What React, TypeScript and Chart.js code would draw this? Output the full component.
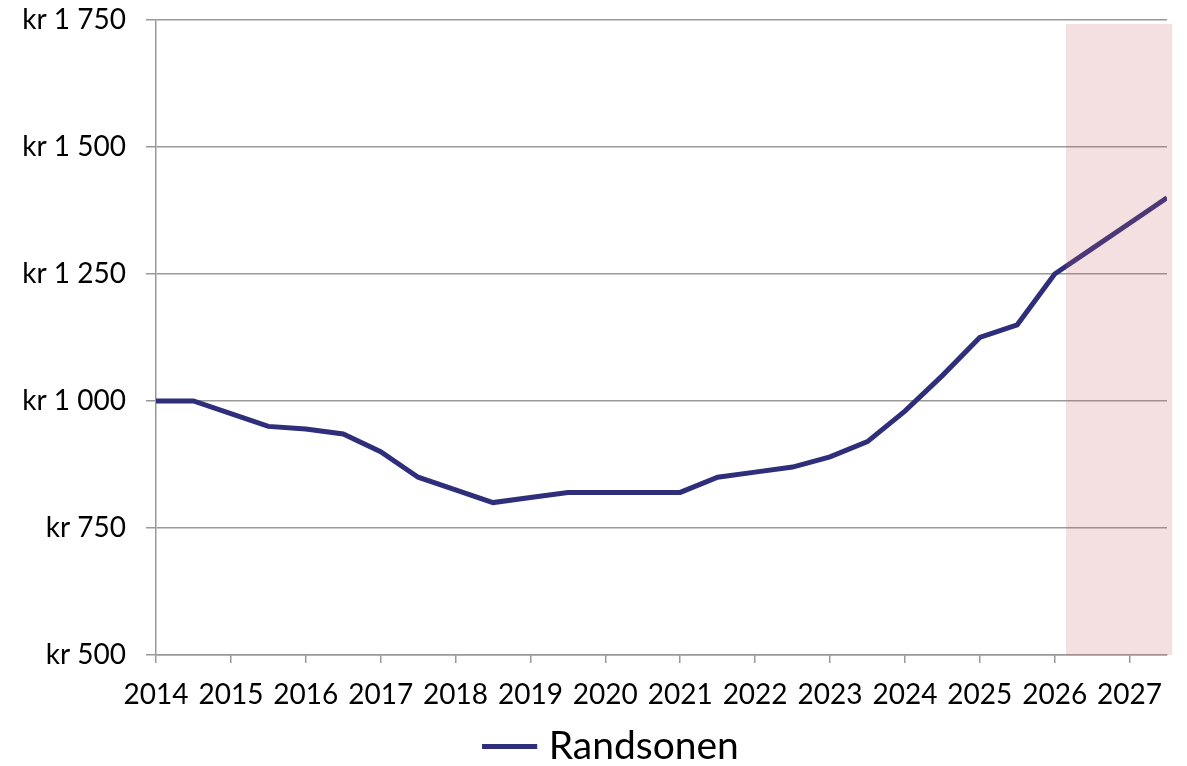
import React, { useEffect, useRef } from "react";
import { Chart, registerables } from "chart.js";

Chart.register(...registerables);

const X_VALUES = [
  2014, 2014.5, 2015, 2015.5, 2016, 2016.5, 2017, 2017.5, 2018, 2018.5, 2019, 2019.5,
  2020, 2020.5, 2021, 2021.5, 2022, 2022.5, 2023, 2023.5, 2024, 2024.5, 2025, 2025.5,
  2026, 2026.5, 2027, 2027.5,
];
const RANDSONEN = [
  1000, 1000, 975, 950, 945, 935, 900, 850, 825, 800, 810, 820,
  820, 820, 820, 850, 860, 870, 890, 920, 980, 1050, 1125, 1150,
  1250, 1300, 1350, 1400,
];
const YEAR_TICKS = [2014, 2015, 2016, 2017, 2018, 2019, 2020, 2021, 2022, 2023, 2024, 2025, 2026, 2027];
const Y_TICKS = [500, 750, 1000, 1250, 1500, 1750];
const SERIES_LABEL = "Randsonen";
const BAND_X = [2026.15, 2027.57];
const BAND_Y = [500, 1742];
const LEGEND_SHIFT = 31;

const FONT = "Lato, 'Open Sans', sans-serif";

function formatKr(v: number): string {
  if (v >= 1000) {
    const th = Math.floor(v / 1000);
    const rest = String(v % 1000).padStart(3, "0");
    return `kr ${th} ${rest}`;
  }
  return `kr ${v}`;
}

const bandPlugin = {
  id: "forecastBand",
  afterLayout(chart: any) {
    if (chart.legend) {
      chart.legend.left += LEGEND_SHIFT;
      chart.legend.right += LEGEND_SHIFT;
    }
  },
  afterDatasetsDraw(chart: any) {
    const { ctx, scales } = chart;
    const x = scales.x;
    const y = scales.y;
    const x0 = x.getPixelForValue(BAND_X[0]);
    const x1 = x.getPixelForValue(BAND_X[1]);
    const y0 = y.getPixelForValue(BAND_Y[1]);
    const y1 = y.getPixelForValue(BAND_Y[0]);
    ctx.save();
    ctx.fillStyle = "rgba(200,100,100,0.2)";
    ctx.fillRect(x0, y0, x1 - x0, y1 - y0);
    ctx.restore();
  },
};

export default function App() {
  const ref = useRef<HTMLCanvasElement | null>(null);
  useEffect(() => {
    if (!ref.current) return;
    const chart = new Chart(ref.current, {
      type: "line",
      data: {
        datasets: [
          {
            label: SERIES_LABEL,
            data: X_VALUES.map((x, i) => ({ x, y: RANDSONEN[i] })),
            borderColor: "#2E2E7B",
            backgroundColor: "#2E2E7B",
            borderWidth: 5,
            pointRadius: 0,
            tension: 0,
          },
        ],
      },
      plugins: [bandPlugin],
      options: {
        animation: false,
        responsive: true,
        maintainAspectRatio: false,
        layout: { padding: { top: 20, right: 20, left: 0, bottom: -10 } },
        scales: {
          x: {
            type: "linear",
            min: 2014,
            max: 2027.5,
            afterBuildTicks: (scale: any) => {
              scale.ticks = YEAR_TICKS.map((v) => ({ value: v }));
            },
            afterFit: (scale: any) => {
              scale.height = 62;
              scale.paddingLeft = 0;
              scale.paddingRight = 0;
            },
            ticks: {
              autoSkip: false,
              maxRotation: 0,
              padding: 15,
              color: "#000",
              font: { family: FONT, size: 28 },
              callback: (v: any) => String(v),
            },
            grid: {
              drawOnChartArea: false,
              drawTicks: true,
              tickLength: 8,
              color: "#999",
              lineWidth: 1.5,
            },
            border: { display: true, color: "#999", width: 1.5 },
          },
          y: {
            min: 500,
            max: 1750,
            afterBuildTicks: (scale: any) => {
              scale.ticks = Y_TICKS.map((v) => ({ value: v }));
            },
            afterFit: (scale: any) => {
              scale.width = 156;
              scale.paddingTop = 0;
              scale.paddingBottom = 0;
            },
            ticks: {
              padding: 20,
              color: "#000",
              font: { family: FONT, size: 28 },
              callback: (v: any) => formatKr(Number(v)),
            },
            grid: {
              drawTicks: true,
              tickLength: 10,
              color: "#999",
              lineWidth: 1.5,
            },
            border: { display: true, color: "#999", width: 1.5 },
          },
        },
        plugins: {
          legend: {
            display: true,
            position: "bottom",
            labels: {
              usePointStyle: true,
              pointStyle: "line",
              boxWidth: 57,
              color: "#000",
              padding: 10,
              font: { family: FONT, size: 39 },
            },
          },
          tooltip: { enabled: false },
        },
      },
    });
    return () => chart.destroy();
  }, []);
  return (
    <div style={{ position: "fixed", left: 0, top: 0, width: "1187px", height: "766px", background: "#fff" }}>
      <canvas ref={ref} />
    </div>
  );
}
